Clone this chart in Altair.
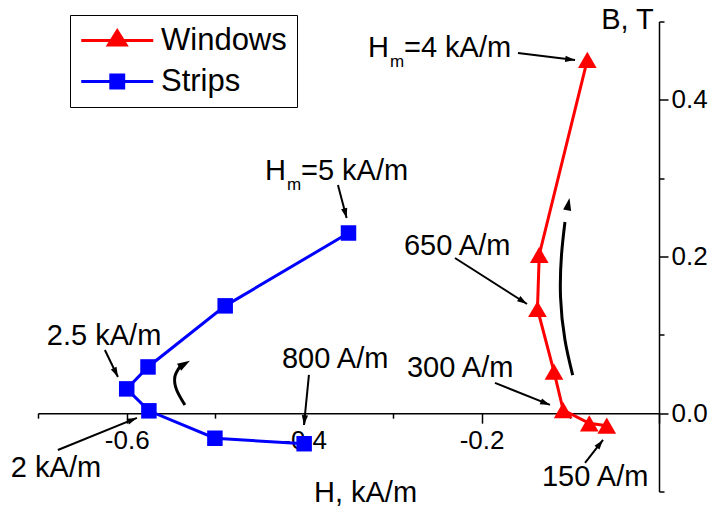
import math

import altair as alt
import pandas as pd

# ---- measured loops: H in kA/m, B in T ----
series_names = ["Windows", "Strips"]
series_colors = ["#ff0000", "#0000ff"]

windows_h = [-0.0589, -0.0786, -0.108, -0.1184, -0.137, -0.135, -0.0808]
windows_b = [-0.016, -0.013, 0.004, 0.053, 0.133, 0.202, 0.451]

strips_h = [-0.400, -0.5006, -0.575, -0.600, -0.576, -0.489, -0.350]
strips_b = [-0.039, -0.032, 0.003, 0.031, 0.059, 0.137, 0.230]

# axis ticks
x_major = [-0.6, -0.4, -0.2, 0.0]
x_minor = [-0.7, -0.5, -0.3, -0.1]
y_major = [0.0, 0.2, 0.4]
y_minor = [-0.1, 0.1, 0.3, 0.5]

# ---- annotation labels (anchored at left/baseline, data coordinates) ----
label_text = ["=4 kA/m", "=5 kA/m", "650 A/m", "300 A/m", "150 A/m",
              "800 A/m", "2.5 kA/m", "2 kA/m", "H", "H"]
label_h = [-0.2875, -0.4036, -0.2875, -0.2841, -0.1319,
           -0.4250, -0.690, -0.7306, -0.3281, -0.4442]
label_b = [0.4548, 0.2977, 0.2020, 0.0462, -0.0929,
           0.0577, 0.0870, -0.0814, 0.4548, 0.2977]

sub_text = ["m", "m"]
sub_h = [-0.3033, -0.4194]
sub_b = [0.4420, 0.2850]

# straight pointer arrows: start -> tip
arrow_h1 = [-0.1590, -0.3619, -0.2300, -0.1849, -0.0834, -0.3946, -0.6246, -0.6776]
arrow_b1 = [0.4599, 0.2913, 0.1981, 0.0386, -0.0636, 0.0488, 0.0807, -0.0470]
arrow_h2 = [-0.0947, -0.3521, -0.1488, -0.1229, -0.0631, -0.4002, -0.6099, -0.5885]
arrow_b2 = [0.4509, 0.2492, 0.1394, 0.0105, -0.0342, -0.0151, 0.0462, -0.0061]

# curved arrows showing the direction of travel
curve_id = ["w", "w", "w", "w", "w", "s", "s", "s", "s"]
curve_h = [-0.0973, -0.1060, -0.1110, -0.1099, -0.1060,
           -0.5344, -0.5437, -0.5457, -0.5400]
curve_b = [0.0487, 0.0934, 0.1483, 0.2020, 0.2441,
           0.0105, 0.0296, 0.0466, 0.0594]
curve_tip_h = [-0.1009, -0.5288]
curve_tip_b = [0.2747, 0.0670]

# ---- layout ----
PLOT_W, PLOT_H = 621, 470
X_DOM, Y_DOM = [-0.7, 0.0], [-0.1, 0.5]
KX = PLOT_W / (X_DOM[1] - X_DOM[0])
KY = PLOT_H / (Y_DOM[1] - Y_DOM[0])
X_AXIS_SHIFT = -(0.0 - Y_DOM[0]) * KY   # lift the H axis up to B = 0
FONT = "Liberation Sans"
TXT = 29

ARROW = "M0,0L0.45,1.4L-0.45,1.4Z"
# legend glyphs: line segment with the series marker on it (units of sqrt(size)/2),
# drawn to the right of the nominal symbol slot
LEG_SIZE = 900
LEG_WIN = "M-0.95,-0.1H3.85V0.1H-0.95Z M1.45,-0.83L2.22,0.4L0.68,0.4Z"
LEG_STR = "M-0.95,-0.1H3.85V0.1H-0.95Z M0.92,-0.53H1.98V0.53H0.92Z"


def heading(dh, db):
    """Screen heading (deg, clockwise from up) of a data-space direction."""
    return math.degrees(math.atan2(dh * KX, db * KY))


rows = []
for name, hs, bs in (("Windows", windows_h, windows_b), ("Strips", strips_h, strips_b)):
    for i, (h, b) in enumerate(zip(hs, bs)):
        rows.append({"series": name, "H": h, "B": b, "idx": i})
loops = pd.DataFrame(rows)

labels = pd.DataFrame({"t": label_text, "H": label_h, "B": label_b})
subs = pd.DataFrame({"t": sub_text, "H": sub_h, "B": sub_b})

arrows = pd.DataFrame({"H": arrow_h1, "B": arrow_b1, "H2": arrow_h2, "B2": arrow_b2})
arrows["ang"] = [heading(h2 - h1, b2 - b1) for h1, b1, h2, b2 in
                 zip(arrow_h1, arrow_b1, arrow_h2, arrow_b2)]

curves = pd.DataFrame({"c": curve_id, "H": curve_h, "B": curve_b,
                       "k": list(range(len(curve_id)))})
last_w = curves[curves.c == "w"].iloc[-1]
last_s = curves[curves.c == "s"].iloc[-1]
curve_heads = pd.DataFrame({"H": curve_tip_h, "B": curve_tip_b})
curve_heads["ang"] = [heading(curve_tip_h[0] - last_w.H, curve_tip_b[0] - last_w.B),
                      heading(curve_tip_h[1] - last_s.H, curve_tip_b[1] - last_s.B)]

common = dict(grid=False, domainColor="black", tickColor="black", domainWidth=1.5,
              tickWidth=1.5, labelFont=FONT, labelFontSize=26, labelColor="black",
              labelOverlap=False, labelFlush=False, labelBound=False)

x_axis = alt.Axis(
    values=x_major, title="H, kA/m", orient="bottom", offset=X_AXIS_SHIFT,
    labelExpr="datum.value < -0.05 ? '-' + format(abs(datum.value), '.1f') : ''",
    tickSize=10, labelPadding=4,
    titleFont=FONT, titleFontSize=TXT, titleFontWeight="normal", titleColor="black",
    titleX=327, titleY=88.5, titleAlign="center", titleBaseline="alphabetic",
    **common,
)
x_axis_minor = alt.Axis(
    values=x_minor, title=None, orient="bottom", offset=X_AXIS_SHIFT,
    tickSize=5, labels=False, domain=False, **common,
)
y_axis = alt.Axis(
    values=y_major, title="B, T", orient="right", format=".1f",
    tickSize=9, labelPadding=3,
    titleFont=FONT, titleFontSize=TXT, titleFontWeight="normal", titleColor="black",
    titleAngle=0, titleX=-32, titleY=6.5, titleAlign="center", titleBaseline="alphabetic",
    **common,
)
y_axis_minor = alt.Axis(
    values=y_minor, title=None, orient="right",
    tickSize=5, labels=False, domain=False, **common,
)

xs = alt.Scale(domain=X_DOM, nice=False, zero=False)
ys = alt.Scale(domain=Y_DOM, nice=False, zero=False)


def X(field="H", axis=None):
    return alt.X(f"{field}:Q", scale=xs, axis=axis)


def Y(field="B", axis=None):
    return alt.Y(f"{field}:Q", scale=ys, axis=axis)


def only(name):
    return f"datum.series == '{name}'"


win_color, str_color = series_colors

# loops: one line + marker layer per series
win_line = alt.Chart(loops).transform_filter(only("Windows")).mark_line(
    strokeWidth=3, color=win_color
).encode(x=X(axis=x_axis), y=Y(axis=y_axis), order="idx:Q")
str_line = alt.Chart(loops).transform_filter(only("Strips")).mark_line(
    strokeWidth=3, color=str_color
).encode(x=X(), y=Y(), order="idx:Q")
tri = alt.Chart(loops).transform_filter(only("Windows")).mark_point(
    shape="triangle-up", filled=True, opacity=1, size=350, color=win_color
).encode(x=X(axis=x_axis_minor), y=Y(axis=y_axis_minor))
sq = alt.Chart(loops).transform_filter(only("Strips")).mark_point(
    shape="square", filled=True, opacity=1, size=240, color=str_color
).encode(x=X(), y=Y())

# legend carrier: invisible points whose legend symbols show line + marker
box_legend = dict(
    title=None, orient="none", legendX=32, legendY=-6.5,
    strokeColor="black", fillColor="white", padding=10,
    symbolSize=LEG_SIZE, symbolStrokeWidth=0, symbolOpacity=1,
    labelFont=FONT, labelFontSize=31, labelColor="black",
    labelOffset=50, rowPadding=9, labelLimit=0,
)
legend_layer = alt.Chart(loops).mark_point(filled=True, opacity=0).encode(
    x=X(), y=Y(),
    color=alt.Color("series:N", scale=alt.Scale(domain=series_names, range=series_colors),
                    legend=alt.Legend(**box_legend)),
    shape=alt.Shape("series:N", scale=alt.Scale(domain=series_names, range=[LEG_WIN, LEG_STR]),
                    legend=alt.Legend(**box_legend)),
)

# annotations
text_main = alt.Chart(labels).mark_text(
    align="left", baseline="alphabetic", font=FONT, fontSize=TXT, color="black"
).encode(x=X(), y=Y(), text="t:N")
text_sub = alt.Chart(subs).mark_text(
    align="left", baseline="alphabetic", font=FONT, fontSize=17, color="black"
).encode(x=X(), y=Y(), text="t:N")

pointer_lines = alt.Chart(arrows).mark_rule(strokeWidth=2, color="black").encode(
    x=X(), y=Y(), x2="H2:Q", y2="B2:Q"
)
pointer_heads = alt.Chart(arrows).mark_point(
    shape=ARROW, filled=True, opacity=1, size=196, color="black"
).encode(x=X("H2"), y=Y("B2"), angle=alt.Angle("ang:Q", scale=None))

curve_lines = alt.Chart(curves).mark_line(
    strokeWidth=3, color="black", interpolate="natural"
).encode(x=X(), y=Y(), detail="c:N", order="k:Q")
curve_tips = alt.Chart(curve_heads).mark_point(
    shape=ARROW, filled=True, opacity=1, size=324, color="black"
).encode(x=X(), y=Y(), angle=alt.Angle("ang:Q", scale=None))

chart = alt.layer(
    win_line, str_line, tri, sq, curve_lines, curve_tips, pointer_lines, pointer_heads,
    text_main, text_sub, legend_layer,
).resolve_axis(
    x="independent", y="independent"
).properties(
    width=PLOT_W, height=PLOT_H,
    autosize=alt.AutoSizeParams(type="none"),
    padding={"left": 38, "top": 21.5, "right": 55, "bottom": 20.5},
    background="white",
).configure_view(stroke=None)

chart.save("out.html", embed_options={"renderer": "svg", "actions": False})
